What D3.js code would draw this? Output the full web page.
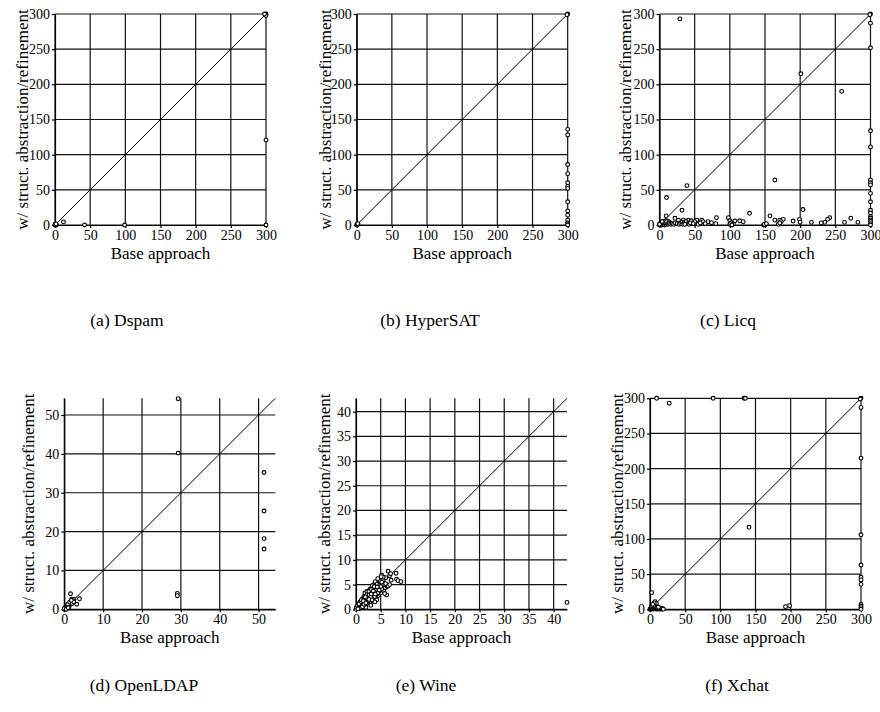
<!DOCTYPE html>
<html lang="en">
<head>
<meta charset="utf-8">
<title>Base approach vs. structural abstraction/refinement</title>
<script src="https://d3js.org/d3.v7.min.js"></script>
<style>
  body { margin: 0; background: #fff; }
</style>
</head>
<body>
<div id="chart"></div>
<script>
var WIDTH = 880;
var HEIGHT = 712;
var FONT = "'Liberation Serif'";

// each point: [base approach, w/ struct. abstraction/refinement]
var dspam = [[0,0],[0.5,0.2],[1,0.5],[2,0],[0,1],[1.5,1.5],[12,4.5],[42,0],[99,0],[300,0],[300,121],
  [300,300],[299,299],[300,298],[298,300]];

var hypersat = [[0,0],[1,0.5],[0.5,1],[2,1],[1.5,2],[300,300],[299,299],[300,136],[300,128],[300,86],
  [300,73],[300,60],[300,55],[300,52],[300,33],[300,20],[300,14],[300,7],[300,3],[300,1.5],[300,0]];

var licq = [[29,293],[201,215],[259,190],[300,300],[299,299],[300,287],[300,252],[300,134],[300,111],
  [300,64],[300,60],[300,57],[300,45],[300,33],[300,21],[300,17],[300,12],[300,9.5],[300,7],[300,5],
  [300,2],[300,0],[39,56],[10,39],[32,21],[164,64],[204,22],[9.5,13],[128,16.6],[157,13],[81,10.4],
  [98,10.4],[100,6],[272,9.5],[242,10.4],[239,8],[199,8],[176,8],[22,9.5],[27,7],[34,7],[41,7],[53,7],
  [60,7],[69,4.7],[107,5.7],[114,6],[119,4.7],[164,7],[171,7],[190,5.7],[216,3.8],[235,3.8],[263,3.8],
  [282,3.8],[150,0],[148,0],[151,1],[170,2],[173,4.7],[105,1.4],[102,3.3],[74,3.3],[62,4.7],[50,4.7],
  [45,6],[15,3.3],[12.8,5.2],[8,3.3],[5,3.3],[29,2.4],[230,3],[200,4],[100,1],[101,2],[103,0],[149,1],
  [152,2],[169,1],[171,3],
  [0,0],[1,0],[2,1],[3,0],[4,1],[5,2],[6,1],[7,0],[8,2],[9,1],[10,3],[11,2],[12,1],[1,2],[3,3],[5,4],
  [7,5],[2,4],[0,1],[6,3],[8,4],[4,5],[9,6],[10,5],[13,3],[14,2],[16,1],[18,2],[20,1],[22,3],[25,2],
  [28,1],[30,2],[32,4],[33,1],[35,3],[37,2],[38,5],[40,2],[42,1],[44,3],[36,1],[48,2],[55,1],[58,3],
  [65,2],[80,2]];

var openldap = [[29.3,54.2],[29.3,40.2],[29.1,4.1],[29.1,3.5],[51.4,35.2],[51.4,25.3],[51.4,18.2],
  [51.4,15.5],[1.6,4.0],[3.9,2.7],[3.2,1.3],[1.9,2.6],[2.5,2.6],
  [0,0],[0.2,0.1],[0.4,0.3],[0.5,0.6],[0.7,0.5],[0.8,0.9],[1,0.8],[1.1,1.2],[1.3,1.0],[1.5,1.4],
  [1.7,1.6],[1.9,1.7],[2.1,2.0],[2.3,2.2],[0.3,0.5],[0.6,0.2],[1.2,0.6],[0.9,1.3],[1.4,1.8],[2.0,1.5],
  [2.4,1.9],[1.8,2.3],[0.1,0],[0,0.2],[0.5,0],[1.0,0.4]];

var wine = [[42.7,1.4],
  [0.1,0.1],[0.2,0.3],[0.3,0.2],[0.4,0.5],[0.5,0.3],[0.6,0.7],[0.7,0.5],[0.8,0.9],[0.9,0.6],[1.0,1.1],
  [1.1,0.8],[1.2,1.3],[1.3,1.0],[1.4,1.5],[1.5,1.2],[1.6,1.8],[1.7,1.4],[1.8,2.0],[1.9,1.6],[2.0,2.2],
  [2.1,1.8],[2.2,2.5],[2.3,2.0],[2.4,2.7],[2.5,2.2],[2.6,2.9],[2.7,2.4],[2.8,3.1],[2.9,2.6],[3.0,3.3],
  [3.1,2.8],[3.2,3.5],[3.3,3.0],[3.4,3.7],[3.5,3.2],[3.6,3.9],[3.7,3.4],[3.8,4.1],[3.9,3.6],[4.0,4.3],
  [4.1,3.8],[4.2,4.6],[4.3,4.0],[4.4,4.8],[4.5,4.2],
  [1.0,0.3],[1.5,0.6],[2.0,0.9],[2.5,1.3],[3.0,1.6],[3.5,2.0],[4.0,2.4],[4.5,2.8],[5.0,3.3],[1.2,2.0],
  [1.6,2.6],[2.0,3.0],[2.4,3.5],[2.8,4.0],[3.2,4.4],[3.6,5.0],[4.0,5.3],[1.8,3.3],[2.2,3.6],
  [4.8,5.3],[5.0,6.0],[5.2,6.9],[5.5,5.9],[5.8,4.2],[6.0,6.4],[6.2,2.9],[6.3,4.6],[6.5,7.7],[6.5,4.7],
  [6.8,6.8],[7.1,5.9],[7.0,7.2],[8.1,7.3],[8.2,6.1],[8.5,5.8],[9.1,5.6],[4.5,4.6],[4.8,3.8],[5.3,5.0],
  [5.6,3.7],[4.2,1.9],[3.5,3.2],[2.8,1.2],[6.0,5.2],[5.5,6.5],[4.7,5.9],[3.8,1.5],[3.0,0.8],[2.0,0.4],
  [5.8,3.2],[6.8,5.0],[0,0],[0.1,0.4],[0.5,1.0],[0.8,1.5],[3.3,4.8],[3.9,5.6],[4.4,6.2],[5.1,6.6],
  [0.3,0.7],[0.6,0.4],[0.9,1.4],[1.2,0.7],[1.5,2.2],[1.8,1.1],[2.1,2.7],[2.4,1.6],[2.7,3.3],[3.0,2.1],
  [3.3,3.9],[3.6,2.6],[3.9,4.5],[4.2,3.1],[1.3,1.7],[1.7,2.3],[2.2,2.9],[2.6,3.6],[3.1,4.0],[3.4,2.4],
  [2.9,1.9],[2.3,1.4],[1.9,1.0],[1.4,0.9],[0.7,0.2],[4.6,3.5],[4.9,4.4],[5.2,4.1],[3.7,4.6],[4.3,5.1],
  [0.4,0.1],[0.6,1.1],[1.0,1.6],[1.3,0.5],[1.6,1.0],[1.9,2.5],[2.2,1.2],[2.5,1.8],[2.7,2.9],[3.0,2.5],
  [3.2,1.9],[3.4,3.4],[3.6,3.0],[3.8,2.6],[4.0,3.5],[4.2,4.0],[4.4,3.3],[4.6,4.1],[4.8,4.9],[5.0,4.6],
  [1.1,1.9],[1.5,1.7],[2.0,1.3],[2.6,2.0],[3.1,3.1],[3.5,3.7],[3.9,3.1],[4.3,4.5],[4.7,3.9],[5.2,5.5]];

var xchat = [[9.4,300],[27.4,293],[89.8,300],[133.7,300],[135.6,300],[300,300],[299,299],[300,287],
  [300,215],[300,106],[300,63],[300,45.5],[300,41.7],[300,35.5],[300,7],[300,4.7],[300,2.4],[300,0],
  [140.8,116.6],[192.7,3.8],[198.4,5.2],[2.4,23.7],[7.1,10.9],
  [0,0],[0.5,0.3],[1,1],[1.5,0.5],[2,2],[2.5,1],[3,0.5],[3.5,2.5],[4,1],[4.5,3],[5,0.5],[5.5,2],
  [6,1.5],[6.5,4],[7,0.8],[7.5,2.5],[8,1],[8.5,3.5],[9,0.5],[9.5,2],[10,1],[11,0.5],[12,1.5],[13,0.3],
  [14,1],[15,0.5],[16,1.2],[17,0.3],[18,0.8],[19,0.2],[2,4],[3,5],[5,6],[7,5],[9,8],[6,9],[4,7],[8,4],
  [10,3],[11,2.5],[12,3]];

var captions = ["(a) Dspam", "(b) HyperSAT", "(c) Licq", "(d) OpenLDAP", "(e) Wine", "(f) Xchat"];
var ticks300 = [0, 50, 100, 150, 200, 250, 300];
var ticks50 = [0, 10, 20, 30, 40, 50];
var ticks40 = [0, 5, 10, 15, 20, 25, 30, 35, 40];
var xTitle = "Base approach";
var yTitle = "w/ struct. abstraction/refinement";

// layout of each small plot (left, top, side) and its caption
var panels = [
  {data: dspam,    max: 300,  ticks: ticks300, left: 55,    top: 14,    size: 211, yOff: 27, capX: 127, capY: 326},
  {data: hypersat, max: 300,  ticks: ticks300, left: 356.7, top: 14,    size: 211, yOff: 26, capX: 430, capY: 326},
  {data: licq,     max: 300,  ticks: ticks300, left: 659.5, top: 14,    size: 211, yOff: 29, capX: 728, capY: 326},
  {data: openldap, max: 54.3, ticks: ticks50,  left: 64.3,  top: 398.3, size: 211, yOff: 30, capX: 144, capY: 691},
  {data: wine,     max: 42.7, ticks: ticks40,  left: 356,   top: 398.3, size: 211, yOff: 26, capX: 426, capY: 691},
  {data: xchat,    max: 300,  ticks: ticks300, left: 650,   top: 398.3, size: 211, yOff: 27, capX: 737, capY: 691}
];

const svg = d3.select("#chart")
  .append("svg")
  .attr("width", WIDTH)
  .attr("height", HEIGHT);

panels.forEach(function(p, i) {
  var x = d3.scaleLinear().domain([0, p.max]).range([0, p.size]);
  var y = d3.scaleLinear().domain([0, p.max]).range([p.size, 0]);

  var g = svg.append("g").attr("transform", "translate(" + p.left + "," + p.top + ")");

  // grid
  g.selectAll(".vgrid").data(p.ticks).enter().append("line")
    .attr("x1", d => x(d)).attr("x2", d => x(d))
    .attr("y1", 0).attr("y2", p.size)
    .attr("stroke", "#111").attr("stroke-width", 1.2);
  g.selectAll(".hgrid").data(p.ticks).enter().append("line")
    .attr("x1", 0).attr("x2", p.size)
    .attr("y1", d => y(d)).attr("y2", d => y(d))
    .attr("stroke", "#111").attr("stroke-width", 1.2);

  // axes
  var ax = g.append("g").attr("transform", "translate(0," + p.size + ")")
    .call(d3.axisBottom(x).tickValues(p.ticks).tickSize(3).tickSizeOuter(0).tickPadding(2));
  var ay = g.append("g")
    .call(d3.axisLeft(y).tickValues(p.ticks).tickSize(3).tickSizeOuter(0).tickPadding(2));
  [ax, ay].forEach(function(a) {
    a.attr("font-family", null).attr("font-size", null);
    a.selectAll("text").style("font-family", FONT).style("font-size", "14px").attr("fill", "#000");
    a.selectAll("line, path").attr("stroke", "#000").attr("stroke-width", 1.2);
  });

  // diagonal
  g.append("line")
    .attr("x1", x(0)).attr("y1", y(0))
    .attr("x2", x(p.max)).attr("y2", y(p.max))
    .attr("stroke", "#000").attr("stroke-width", 1);

  // points
  g.selectAll("circle").data(p.data).enter().append("circle")
    .attr("cx", d => x(d[0]))
    .attr("cy", d => y(d[1]))
    .attr("r", 1.9)
    .attr("fill", "#fff")
    .attr("stroke", "#000")
    .attr("stroke-width", 1.1);

  // titles
  g.append("text")
    .attr("x", p.size / 2).attr("y", p.size + 33.5)
    .attr("text-anchor", "middle")
    .style("font-family", FONT)
    .style("font-size", "17px")
    .text(xTitle);
  g.append("text")
    .attr("transform", "translate(" + (-p.yOff) + "," + (p.size / 2) + ") rotate(-90)")
    .attr("text-anchor", "middle")
    .style("font-family", FONT)
    .style("font-size", "17px")
    .text(yTitle);

  svg.append("text")
    .attr("x", p.capX).attr("y", p.capY)
    .attr("text-anchor", "middle")
    .style("font-family", FONT)
    .style("font-size", "17.5px")
    .text(captions[i]);
});
</script>
</body>
</html>
